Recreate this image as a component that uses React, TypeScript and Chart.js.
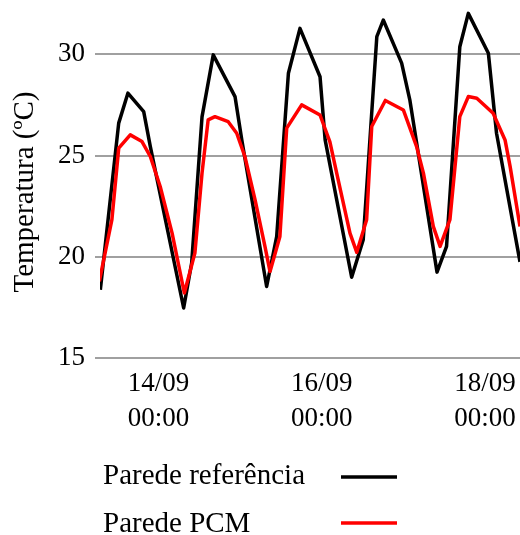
import React, { useEffect, useRef } from "react";
import { Chart, registerables } from "chart.js";

Chart.register(...registerables);

// Hours since 14/09 00:00 and temperatures (°C)
const refHours = [-17.1, -11.7, -9.0, -4.35, -2.4, 7.4, 9.75, 12.8, 16.1, 22.5, 24.5, 31.8, 34.75, 38.2, 41.6, 47.5, 49.0, 56.8, 60.2, 64.2, 66.1, 71.5, 73.9, 81.9, 84.7, 88.6, 91.1, 97.0, 99.4, 106.3];
const refTemps = [18.37, 26.6, 28.08, 27.17, 25.44, 17.47, 19.69, 26.91, 29.97, 27.91, 25.77, 18.53, 21.0, 29.06, 31.28, 28.89, 25.77, 18.99, 20.84, 30.87, 31.69, 29.56, 27.75, 19.24, 20.51, 30.37, 32.02, 30.05, 26.1, 19.75];

const pcmHours = [-17.4, -13.7, -11.7, -8.3, -4.85, -2.4, 0.5, 4.0, 7.6, 10.7, 12.8, 14.6, 16.6, 20.5, 23.0, 25.4, 28.4, 31.3, 32.8, 35.7, 37.7, 42.1, 47.5, 50.4, 52.4, 56.3, 58.3, 61.2, 62.7, 66.7, 72.0, 75.9, 77.9, 80.8, 82.8, 85.7, 88.6, 91.1, 93.6, 98.4, 101.9, 103.4, 106.3];
const pcmTemps = [18.78, 21.83, 25.36, 26.02, 25.69, 24.95, 23.47, 21.17, 18.21, 20.18, 24.13, 26.76, 26.92, 26.67, 26.1, 24.95, 22.81, 20.51, 19.27, 21.0, 26.35, 27.5, 27.0, 25.67, 24.13, 21.17, 20.22, 21.83, 26.43, 27.72, 27.25, 25.44, 24.13, 21.5, 20.51, 21.83, 26.92, 27.91, 27.83, 27.09, 25.77, 24.45, 21.5];

const xTickHours = [0, 48, 96];
const xTickDates = ["14/09", "16/09", "18/09"];
const xTickTimes = ["00:00", "00:00", "00:00"];
const yTickValues = [15, 20, 25, 30];

const seriesNames = ["Parede referência", "Parede PCM"];
const seriesColors = ["#000000", "#ff0000"];
const yTitle = "Temperatura (ºC)";

const FONT = '"Liberation Serif", "Times New Roman", serif';

export default function App() {
  const canvasRef = useRef<HTMLCanvasElement>(null);

  useEffect(() => {
    const canvas = canvasRef.current;
    if (!canvas) return;

    const overlay = {
      id: "customLegendTitle",
      afterDraw(chart: any) {
        const ctx = chart.ctx;
        ctx.save();
        ctx.fillStyle = "#000";
        ctx.font = `29px ${FONT}`;
        ctx.textAlign = "left";
        ctx.textBaseline = "alphabetic";
        const rows = [
          { ty: 484, ly: 477 },
          { ty: 532, ly: 523 },
        ];
        seriesNames.forEach((name, i) => {
          ctx.fillStyle = "#000";
          ctx.fillText(name, 103, rows[i].ty);
          ctx.strokeStyle = seriesColors[i];
          ctx.lineWidth = 3.5;
          ctx.beginPath();
          ctx.moveTo(341, rows[i].ly);
          ctx.lineTo(397, rows[i].ly);
          ctx.stroke();
        });
        ctx.translate(33, 192);
        ctx.rotate(-Math.PI / 2);
        ctx.textAlign = "center";
        ctx.fillStyle = "#000";
        ctx.fillText(yTitle, 0, 0);
        ctx.restore();
      },
    };

    const chart = new Chart(canvas, {
      type: "line",
      data: {
        datasets: [
          {
            label: seriesNames[1],
            data: pcmHours.map((h, i) => ({ x: h, y: pcmTemps[i] })),
            borderColor: seriesColors[1],
            backgroundColor: seriesColors[1],
            borderWidth: 3.5,
            borderJoinStyle: "round",
            pointRadius: 0,
            tension: 0,
            order: 0,
          },
          {
            label: seriesNames[0],
            data: refHours.map((h, i) => ({ x: h, y: refTemps[i] })),
            borderColor: seriesColors[0],
            backgroundColor: seriesColors[0],
            borderWidth: 3.5,
            borderJoinStyle: "round",
            pointRadius: 0,
            tension: 0,
            order: 1,
          },
        ],
      },
      options: {
        animation: false,
        responsive: false,
        maintainAspectRatio: false,
        layout: { padding: { left: 0, right: 0, top: 0, bottom: 97 } },
        plugins: {
          legend: { display: false },
          tooltip: { enabled: false },
          title: { display: false },
        },
        scales: {
          x: {
            type: "linear",
            min: -17.2,
            max: 106.3,
            grid: { display: false, drawTicks: false },
            border: { display: false },
            afterBuildTicks: (s: any) => {
              s.ticks = xTickHours.map((v) => ({ value: v }));
            },
            afterFit: (s: any) => {
              s.height = 80;
              s.paddingLeft = 0;
              s.paddingRight = 0;
            },
            ticks: {
              autoSkip: false,
              maxRotation: 0,
              minRotation: 0,
              padding: 8,
              color: "#000",
              font: { family: FONT, size: 27, lineHeight: 1.3 },
              callback: (v: any) => {
                const i = xTickHours.indexOf(Number(v));
                return i >= 0 ? [xTickDates[i], xTickTimes[i]] : "";
              },
            },
          },
          y: {
            min: 15,
            max: 32.68,
            afterBuildTicks: (s: any) => {
              s.ticks = yTickValues.map((v) => ({ value: v }));
            },
            afterFit: (s: any) => {
              s.width = 100;
              s.paddingTop = 0;
              s.paddingBottom = 0;
            },
            grid: { color: "#a0a0a0", lineWidth: 2, drawTicks: true, tickLength: 5 },
            border: { display: false },
            ticks: {
              padding: 10,
              color: "#000",
              font: { family: FONT, size: 27 },
            },
          },
        },
      },
      plugins: [overlay],
    });

    return () => chart.destroy();
  }, []);

  return (
    <div style={{ position: "absolute", left: 0, top: 0, width: 520, height: 535, background: "#fff" }}>
      <canvas ref={canvasRef} width={520} height={535} style={{ width: 520, height: 535, display: "block" }} />
    </div>
  );
}
